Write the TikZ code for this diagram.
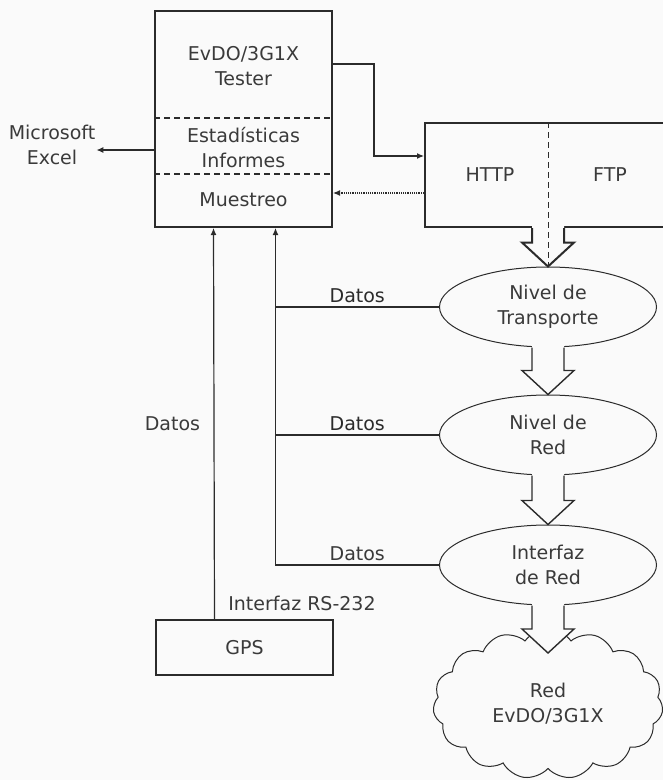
\documentclass[tikz,border=0pt]{standalone}
\usepackage{fontspec}
\setmainfont{DejaVu Sans}
\usetikzlibrary{calc, arrows.meta, shapes.geometric, shapes.symbols, positioning}
\definecolor{clinea}{HTML}{2B2B2B}
\definecolor{ctexto}{HTML}{3A3A3A}
\definecolor{cfondo}{HTML}{FAFAFA}

\tikzset{
  caja/.style={draw=clinea, line width=2pt, minimum width=177pt, inner sep=0pt},
  nivel/.style={ellipse, draw=clinea, line width=1pt, minimum width=217pt, minimum height=80pt, inner sep=0pt, align=center},
  etiq/.style={align=center, inner sep=1pt},
  flecha/.style={-{Latex[length=7pt,width=6pt]}, draw=clinea, line width=1.2pt},
  rayas/.style={draw=clinea, line width=1.2pt, dash pattern=on 6pt off 4pt},
}

% flecha gruesa entre dos niveles
\newcommand{\flechagruesa}[3]{%
  \fill[cfondo] let \p1=(#1), \p2=(#2) in
    (\x1-16pt,\y1+3pt) -- (\x1-16pt,\y2+24pt) -- (\x1-26pt,\y2+24pt) -- (\x2,\y2)
    -- (\x1+26pt,\y2+24pt) -- (\x1+16pt,\y2+24pt) -- (\x1+16pt,\y1+3pt) -- cycle;
  \draw[clinea, line width=#3, line join=miter] let \p1=(#1), \p2=(#2) in
    (\x1-16pt,\y1) -- (\x1-16pt,\y2+24pt) -- (\x1-26pt,\y2+24pt) -- (\x2,\y2)
    -- (\x1+26pt,\y2+24pt) -- (\x1+16pt,\y2+24pt) -- (\x1+16pt,\y1);}

\begin{document}
\begin{tikzpicture}[x=1pt, y=-1pt, every node/.append style={font=\fontsize{19}{25}\selectfont\color{ctexto}}]
    \fill[cfondo] (0,0) rectangle (663,780);
    \useasboundingbox (0,0) rectangle (663,780);
    % probador
    \node (tester) [caja, minimum height=216pt] at (243.5,119) {};
    \node (tit) [etiq] at (243.5,66) {EvDO/3G1X\\Tester};
    \node (est) [etiq] at (243.5,148) {Estadísticas\\Informes};
    \node (mue) [etiq] at (243.5,200) {Muestreo};
    \foreach \yy in {118,174} \draw[rayas] (tester.west |- 0,\yy) -- (tester.east |- 0,\yy);
    \node (excel) [etiq] at (52,145) {Microsoft\\Excel};
    % protocolos
    \node (proto) [caja, minimum width=246pt, minimum height=104pt] at (548,175) {};
    \node (http) [etiq] at (490,175) {HTTP};
    \node (ftp) [etiq] at (610,175) {FTP};
    % niveles
    \node (transp) [nivel] at (548,307) {Nivel de\\Transporte};
    \node (red) [nivel] at (548,435) {Nivel de\\Red};
    \node (intf) [nivel] at (548,565) {Interfaz\\de Red};
    \node (nube) [cloud, cloud puffs=15, cloud puff arc=110, aspect=1.55, draw=clinea, line width=1pt, minimum width=230pt, minimum height=150pt, align=center] at (548,704) {Red\\EvDO/3G1X};
    \node (gps) [caja, minimum height=55pt] at (244.5,647.5) {GPS};
    \node (rs) [etiq] at (302,603) {Interfaz RS-232};
    \flechagruesa{proto.south}{transp.north}{2pt}
    \draw[rayas, line width=1pt] (proto.north) -- (transp.north);
    \flechagruesa{transp.south}{red.north}{1.4pt}
    \flechagruesa{red.south}{intf.north}{1.4pt}
    \flechagruesa{intf.south}{$(nube.center)+(0,-51)$}{1.4pt}
    % conexiones
    \draw[flecha] ([yshift=-54pt]tester.north east) -- ++(41,0) |- ([yshift=19pt]proto.west);
    \coordinate (mret) at ([yshift=-18pt]proto.west);
    \draw[flecha, densely dotted] (mret) -- (mret -| tester.east);
    \coordinate (mexc) at ([yshift=-31pt]tester.west);
    \draw[flecha] (mexc) -- (mexc -| excel.east);
    \draw[flecha] ([xshift=-30pt]gps.north) -- ([xshift=-30pt]tester.south) node[midway, left=10pt] {Datos};
    \coordinate (bus) at ([xshift=32pt]tester.south);
    \draw[flecha] (intf.west) -| (bus) node[pos=0.25, above] {Datos};
    \foreach \n in {transp, red} \draw[clinea, line width=1.2pt] (\n.west) -- (\n.west -| bus) node[midway, above] {Datos};
\end{tikzpicture}
\end{document}
